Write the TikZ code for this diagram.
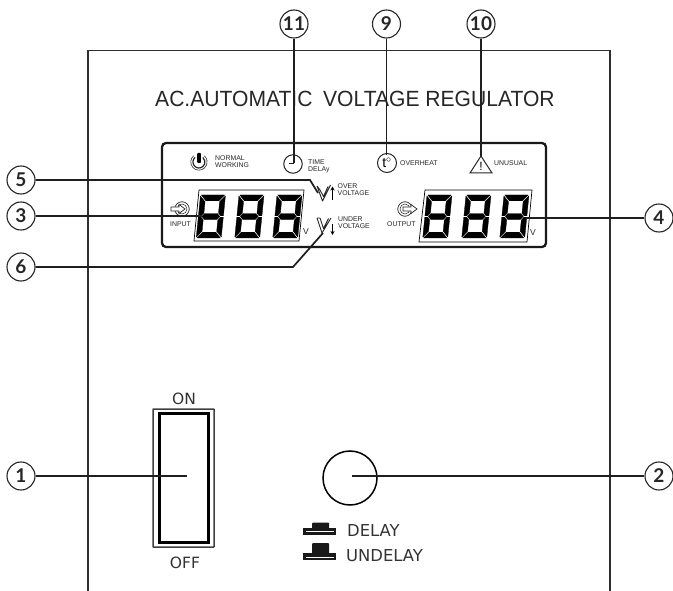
\documentclass[tikz,border=0pt]{standalone}
\usepackage{fontspec}
\usepackage{graphicx}
\usetikzlibrary{arrows.meta}
\setmainfont{Liberation Sans}
\newfontfamily\numfont{Lato}
\newfontfamily\labfont{DejaVu Sans}
\tikzset{
  frame/.style={draw=black!82,line width=1.8pt},
  leader/.style={draw=black!88,line width=1.7pt},
  callout/.style={circle,draw=black!85,line width=1.1pt,minimum size=28pt,inner sep=0pt,fill=white,font=\numfont\bfseries\fontsize{19}{19}\selectfont,text=black!85},
  tiny label/.style={anchor=west,inner sep=0pt,align=left,text=black!85,font=\fontsize{6.9}{6.9}\selectfont},
  panel label/.style={inner sep=0pt,text=black!80,font=\labfont\fontsize{15.5}{16}\selectfont},
  button label/.style={panel label,anchor=west,font=\labfont\fontsize{16.4}{17}\selectfont},
  thinline/.style={draw=black,line width=0.7pt},
  icon/.style={draw=black!85,line width=1pt},
}
\newcommand{\sevenseg}[2]{%
  \begin{scope}[shift={(#1,#2)},xslant=0.1]
    \fill[black,draw=black,line width=0.3pt,line join=round]
      (0.8,0)--(24.2,0)--(19,5.8)--(6,5.8)--cycle
      (0.8,43)--(24.2,43)--(19,37.2)--(6,37.2)--cycle
      (3.6,21.5)--(6.2,18.6)--(18.8,18.6)--(21.4,21.5)--(18.8,24.4)--(6.2,24.4)--cycle
      (0,1)--(5.2,6.8)--(5.2,18)--(2.8,20.8)--(0,20.8)--cycle
      (25,1)--(19.8,6.8)--(19.8,18)--(22.2,20.8)--(25,20.8)--cycle
      (0,42)--(5.2,36.2)--(5.2,25)--(2.8,22.2)--(0,22.2)--cycle
      (25,42)--(19.8,36.2)--(19.8,25)--(22.2,22.2)--(25,22.2)--cycle;
  \end{scope}}
\begin{document}
\begin{tikzpicture}[x=1pt,y=-1pt]
\useasboundingbox (0,0) rectangle (673,591);
% panel outline
\draw[frame] (88,591)--(88,50.5)--(610,50.5)--(610,591);
% title
\node[anchor=base west,inner sep=0pt,text=black!85,font=\fontsize{22}{22}\selectfont] (title) at (155,107) {\scalebox{0.958}[1]{AC.AUTOMATIC\hspace{5pt} VOLTAGE REGULATOR}};
% display
\draw[black!90,line width=2.3pt,rounded corners=4pt] (162,143) rectangle (546,247);
\draw[thinline] (199,190)--(304,190)--(299,241)--(194,241)--cycle;
\draw[thinline] (425,190)--(532,190)--(527,242)--(419,242)--cycle;
\foreach \dx in {200.5,239,277}{\sevenseg{\dx}{195}}
\foreach \dx in {427,466,504}{\sevenseg{\dx}{195}}
% power icon
\draw[icon,line width=0.6pt] (193.7,155.7) arc[start angle=230,end angle=-50,radius=8.2];
\draw[icon,line width=1.2pt] (195.1,157.4) arc[start angle=230,end angle=-50,radius=6];
\fill[black,rounded corners=0.8pt] (197.2,153) rectangle (200.8,163);
\node[tiny label] (normal) at (215,161.5) {NORMAL\\WORKING};
% clock
\node[circle,icon,minimum size=18.5pt,inner sep=0pt] (clock) at (293,164) {};
\node[tiny label] (timedelay) at (308,166.5) {TIME\\DELAy};
% overheat
\node[circle,icon,minimum size=19pt,inner sep=0pt,font=\fontsize{14}{14}\selectfont] (heat) at (387,163) {t$^{\circ}$};
\node[tiny label] (overheat) at (400,163) {OVERHEAT};
% unusual
\coordinate (triA) at (481,156);
\draw[icon,line join=miter] (triA)--(492,173)--(470,173)--cycle;
\node[inner sep=0pt,font=\fontsize{12}{12}\selectfont] (bang) at (481,166.5) {!};
\node[tiny label] (unusual) at (494,163) {UNUSUAL};
% V icons
\draw[icon,line width=0.9pt,line join=round] (317,186)--(322.5,201)--(330.5,185) (320,190)--(323.5,196.5)--(328,186.5) (317,186)--(320,190);
\draw[black,line width=1.1pt,-{Stealth[length=4pt,width=4pt]}] (332.5,200)--(332.5,186.5);
\node[tiny label] (over) at (337.5,190) {OVER\\VOLTAGE};
\draw[icon,line width=0.9pt,line join=round] (317,218)--(322,233)--(331,218) (320,218)--(323.5,228.5)--(328.5,218.5) (317,218)--(320,218);
\draw[black,line width=1.1pt,-{Stealth[length=4pt,width=4pt]}] (332.5,224)--(332.5,235);
\node[tiny label] (under) at (338,223) {UNDER\\VOLTAGE};
\node[inner sep=0pt,text=black!85,font=\fontsize{8.5}{8.5}\selectfont] (v1) at (306,232) {V};
\node[inner sep=0pt,text=black!85,font=\fontsize{8.5}{8.5}\selectfont] (v2) at (533,233) {V};
% input / output icons
\node[circle,icon,line width=0.7pt,minimum size=14.5pt,inner sep=0pt] (inring) at (182,209) {};
\node[circle,icon,line width=0.5pt,minimum size=10pt,inner sep=0pt] (inring2) at (182,209) {};
\draw[icon,line width=0.7pt,fill=white] (171,207)--(179,207)--(179,204.5)--(185,209)--(179,213.5)--(179,211)--(171,211)--cycle;
\node[tiny label] (input) at (170,224) {INPUT};
\node[circle,icon,line width=0.7pt,minimum size=14.5pt,inner sep=0pt] (outring) at (405,209) {};
\node[circle,icon,line width=0.5pt,minimum size=10pt,inner sep=0pt] (outring2) at (405,209) {};
\draw[icon,line width=0.7pt,fill=white] (403,207)--(411,207)--(411,204.5)--(417,209)--(411,213.5)--(411,211)--(403,211)--cycle;
\node[tiny label] (output) at (387,224) {OUTPUT};
% switch
\draw[black!75,line width=1.5pt,rounded corners=0.5pt] (153,409) rectangle (214,547);
\draw[black,line width=3pt] (159.5,413.5) rectangle (208.5,542.5);
\node[panel label] (on) at (184,399) {ON};
\node[panel label] (off) at (185,563) {OFF};
% knob
\node[circle,draw=black,line width=1.5pt,minimum size=54pt,inner sep=0pt] (knob) at (350,478) {};
% buttons
\fill[black!90] (303,528)--(336,528)--(336,535)--(303,535)--cycle;
\fill[black!90,rounded corners=1pt] (312,522.5) rectangle (329,530);
\draw[white,line width=0.4pt] (306,531)--(334,531);
\fill[black!90] (303,553)--(336,553)--(336,560)--(303,560)--cycle;
\fill[black!90,rounded corners=1pt] (312,543) rectangle (329,555);
\draw[white,line width=0.4pt] (306,557)--(334,557);
\node[button label] (delay) at (347,531) {DELAY};
\node[button label] (undelay) at (346,556) {UNDELAY};
% callouts
\node[callout] (c5) at (21,180) {5};
\node[callout] (c3) at (21,216) {3};
\node[callout] (c6) at (21,267) {6};
\node[callout] (c1) at (21,476) {1};
\node[callout] (c11) at (294,24) {11};
\node[callout] (c9) at (386.5,24) {9};
\node[callout] (c10) at (481,24) {10};
\node[callout] (c4) at (659,218) {4};
\node[callout] (c2) at (659,476) {2};
% leader ends
\coordinate (e5a) at (310,180);
\coordinate (e5b) at (318,193);
\coordinate (e3) at (202,216);
\coordinate (e6a) at (293,267);
\coordinate (e6b) at (323,233);
\coordinate (e1) at (187,476);
\coordinate (e11) at (294,163);
\coordinate (e9) at (386.5,155);
\coordinate (e10) at (481,156);
\coordinate (e4) at (527,218);
\coordinate (e2) at (352,476);
\draw[leader] (c5.east)--(e5a)--(e5b);
\draw[leader] (c3.east)--(e3);
\draw[leader] (c6.east)--(e6a)--(e6b);
\draw[leader] (c1.east)--(e1);
\draw[leader] (c11.south)--(e11);
\draw[black!88,line width=0.8pt] (e11)--++(-5,0);
\draw[leader] (c9.south)--(e9);
\draw[leader] (c10.south)--(e10);
\draw[leader] (c4.west)--(e4);
\draw[leader] (c2.west)--(e2);
\end{tikzpicture}
\end{document}
